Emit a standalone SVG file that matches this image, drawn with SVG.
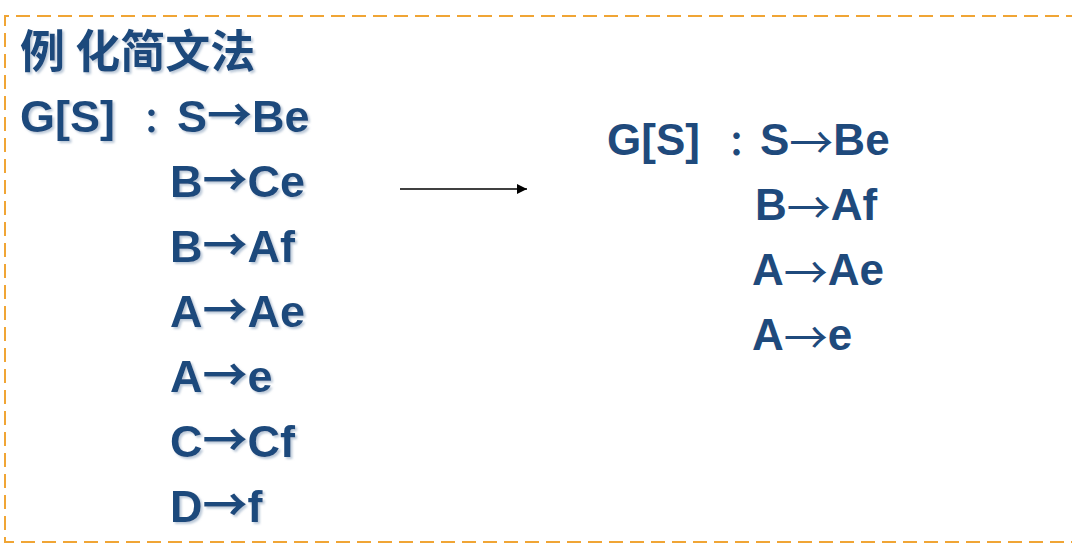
<svg xmlns="http://www.w3.org/2000/svg" width="1072" height="548" viewBox="0 0 1072 548">
<style>
.t{font-family:"Liberation Sans","Noto Sans CJK SC",Arial,sans-serif;font-weight:bold;font-size:45px;fill:#1f4a7c}
.r{font-size:44px}
.cjk{font-family:"Noto Sans CJK SC",sans-serif;font-weight:bold;font-size:45px;fill:#1f4a7c}
.ar{font-family:"Noto Sans CJK SC",sans-serif;font-weight:bold}
.arr{font-family:"Noto Sans CJK SC",sans-serif;font-weight:normal}
.col{font-family:"Noto Sans CJK SC",sans-serif;font-size:34px}
.sh{filter:url(#shadow)}
</style>
<defs>
<filter id="shadow" x="-10%" y="-10%" width="130%" height="140%">
<feDropShadow dx="2" dy="2" stdDeviation="1" flood-color="#8fa6c0" flood-opacity="0.6"/>
</filter>
<marker id="ah" markerWidth="10" markerHeight="10" refX="10" refY="5" orient="auto" markerUnits="userSpaceOnUse">
<path d="M0,0 L10,5 L0,10 Z" fill="#000"/>
</marker>
</defs>
<rect width="1072" height="548" fill="#fff"/>
<path d="M1080,16 H5 V542 H1080" fill="none" stroke="#f0a535" stroke-width="2" stroke-dasharray="14 7"/>
<g id="left" class="sh">
<text class="cjk" x="20" y="68">例 化简文法</text>
<text class="t" x="20" y="132">G[S]<tspan x="143" class="col">：</tspan><tspan x="177">S</tspan><tspan class="ar">→</tspan>Be</text>
<text class="t" x="170" y="197">B<tspan class="ar">→</tspan>Ce</text>
<text class="t" x="170" y="262">B<tspan class="ar">→</tspan>Af</text>
<text class="t" x="170" y="327">A<tspan class="ar">→</tspan>Ae</text>
<text class="t" x="170" y="392">A<tspan class="ar">→</tspan>e</text>
<text class="t" x="170" y="457">C<tspan class="ar">→</tspan>Cf</text>
<text class="t" x="170" y="522">D<tspan class="ar">→</tspan>f</text>
</g>
<g id="connectors">
<line x1="400" y1="189" x2="527" y2="189" stroke="#000" stroke-width="1.5" marker-end="url(#ah)"/>
</g>
<g id="right">
<text class="t r" x="607" y="155">G[S]<tspan x="728" class="col">：</tspan><tspan x="760">S</tspan><tspan class="arr" dy="4">→</tspan><tspan dy="-4">Be</tspan></text>
<text class="t r" x="755" y="220">B<tspan class="arr" dy="4">→</tspan><tspan dy="-4">Af</tspan></text>
<text class="t r" x="752" y="285">A<tspan class="arr" dy="4">→</tspan><tspan dy="-4">Ae</tspan></text>
<text class="t r" x="752" y="350">A<tspan class="arr" dy="4">→</tspan><tspan dy="-4">e</tspan></text>
</g>
</svg>
